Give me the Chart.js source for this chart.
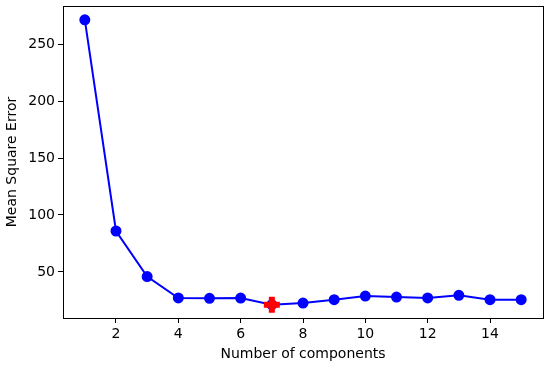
<!DOCTYPE html>
<html>
<head>
<meta charset="utf-8">
<script src="https://cdn.jsdelivr.net/npm/chart.js@4/dist/chart.umd.min.js"></script>
<style>
  html, body { margin: 0; padding: 0; background: #fff; }
  #wrap { width: 550px; height: 367px; }
</style>
</head>
<body>
<div id="wrap"><canvas id="mseChart"></canvas></div>
<script>
const components = [1, 2, 3, 4, 5, 6, 7, 8, 9, 10, 11, 12, 13, 14, 15];
const mse = [271.4, 85.9, 45.9, 27.1, 26.8, 27.0, 21.2, 22.6, 25.6, 28.8, 27.9, 27.1, 29.4, 25.6, 25.6];
const bestComponent = 7;
const xTicks = [2, 4, 6, 8, 10, 12, 14];
const yTicks = [50, 100, 150, 200, 250];

Chart.defaults.font.family = 'DejaVu Sans';
Chart.defaults.font.size = 14;
Chart.defaults.color = '#000';

// matplotlib style frame around the plot area
const frame = {
  id: 'frame',
  afterDraw(chart) {
    const { ctx, chartArea: a } = chart;
    ctx.save();
    ctx.strokeStyle = '#000';
    ctx.lineWidth = 1;
    ctx.strokeRect(a.left + 0.5, a.top + 0.5, a.right - a.left, a.bottom - a.top);
    ctx.restore();
  }
};

const bestIdx = components.indexOf(bestComponent);

new Chart(document.getElementById('mseChart'), {
  type: 'line',
  data: {
    datasets: [{
      label: 'MSE',
      data: components.map((c, i) => ({ x: c, y: mse[i] })),
      borderColor: '#0000ff',
      backgroundColor: '#0000ff',
      borderWidth: 2,
      pointRadius: 4.5,
      pointHoverRadius: 4.5,
      order: 2
    }, {
      label: 'best',
      data: [{ x: bestComponent, y: mse[bestIdx] }],
      showLine: false,
      pointStyle: 'cross',
      borderColor: '#ff0000',
      backgroundColor: '#ff0000',
      pointBorderWidth: 6,
      pointRadius: 8,
      pointHoverRadius: 8,
      order: 1
    }]
  },
  options: {
    responsive: true,
    maintainAspectRatio: false,
    animation: false,
    layout: { autoPadding: false, padding: { top: 6, right: 7, left: 0, bottom: 0 } },
    plugins: { legend: { display: false }, tooltip: { enabled: false } },
    scales: {
      x: {
        type: 'linear',
        min: 0.3,
        max: 15.7,
        afterBuildTicks: (s) => { s.ticks = xTicks.map(v => ({ value: v })); },
        afterFit: (s) => { s.height = 49; s.paddingLeft = 0; s.paddingRight = 0; },
        grid: { drawOnChartArea: false, drawTicks: true, tickLength: 5, color: '#000' },
        border: { display: false },
        ticks: { padding: 3, maxRotation: 0 },
        title: { display: true, text: 'Number of components', padding: { top: 0 } }
      },
      y: {
        min: 9.5,
        max: 283.5,
        afterBuildTicks: (s) => { s.ticks = yTicks.map(v => ({ value: v })); },
        afterFit: (s) => { s.width = 63; s.paddingTop = 0; s.paddingBottom = 0; },
        grid: { drawOnChartArea: false, drawTicks: true, tickLength: 5, color: '#000' },
        border: { display: false },
        ticks: { padding: 3 },
        title: { display: true, text: 'Mean Square Error', padding: { bottom: 2 } }
      }
    }
  },
  plugins: [frame]
});
</script>
</body>
</html>
